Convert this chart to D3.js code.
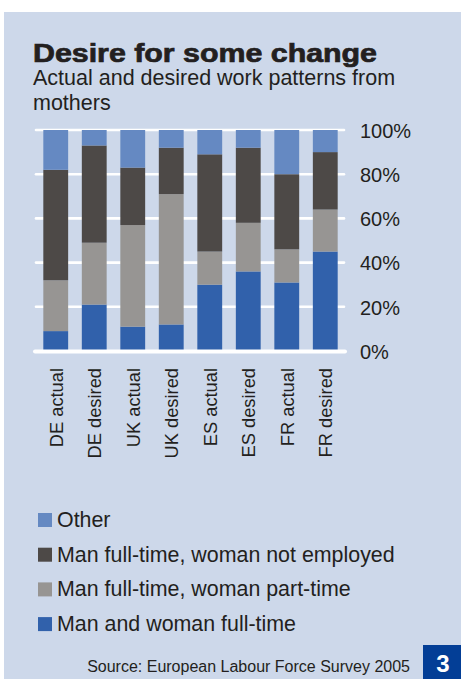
<!DOCTYPE html>
<html>
<head>
<meta charset="utf-8">
<script src="https://cdn.jsdelivr.net/npm/d3@7"></script>
<style>
  html, body { margin: 0; padding: 0; background: #ffffff; }
  svg { display: block; }
</style>
</head>
<body>
<div id="chart"></div>
<script>
// Categories (x axis) and stacked series values, in percent.
const categories = ["DE actual", "DE desired", "UK actual", "UK desired",
  "ES actual", "ES desired", "FR actual", "FR desired"];
const fullTime = [9, 21, 11, 12, 30, 36, 31, 45];
const partTime = [23, 28, 46, 59, 15, 22, 15, 19];
const notEmployed = [50, 44, 26, 21, 44, 34, 34, 26];
const other = [18, 7, 17, 8, 11, 8, 20, 10];
const seriesNames = ["Man and woman full-time", "Man full-time, woman part-time",
  "Man full-time, woman not employed", "Other"];
const yTicks = [0, 20, 40, 60, 80, 100];

const width = 461;
const height = 679;
const font = "'Liberation Sans', Arial, sans-serif";
const colors = ["#3161ab", "#979593", "#4d4947", "#6589c2"];

// Build rows for d3.stack.
const rows = categories.map((c, i) => ({
  cat: c,
  s0: fullTime[i],
  s1: partTime[i],
  s2: notEmployed[i],
  s3: other[i],
}));
const keys = ["s0", "s1", "s2", "s3"];
const stacked = d3.stack().keys(keys)(rows);

const svg = d3.select("#chart")
  .append("svg")
  .attr("width", width)
  .attr("height", height);

// Background panel.
svg.append("rect")
  .attr("x", 4)
  .attr("y", 12)
  .attr("width", width - 4)
  .attr("height", height - 12)
  .attr("fill", "#cdd8ea");

// Title and subtitle.
svg.append("text")
  .attr("x", 33)
  .attr("y", 62)
  .attr("font-family", font)
  .attr("font-weight", 900)
  .attr("font-size", 25)
  .attr("fill", "#231f20")
  .attr("stroke", "#231f20")
  .attr("stroke-width", 0.7)
  .attr("textLength", 344)
  .attr("lengthAdjust", "spacingAndGlyphs")
  .text("Desire for some change");

svg.append("text")
  .attr("x", 33)
  .attr("y", 85)
  .attr("font-family", font)
  .attr("font-size", 21.5)
  .attr("fill", "#231f20")
  .text("Actual and desired work patterns from");

svg.append("text")
  .attr("x", 33)
  .attr("y", 110)
  .attr("font-family", font)
  .attr("font-size", 21.5)
  .attr("fill", "#231f20")
  .text("mothers");

// Scales.
const x = d3.scaleBand()
  .domain(categories)
  .range([36, 345])
  .paddingInner(0.355)
  .paddingOuter(0.19);

const y = d3.scaleLinear()
  .domain([0, 100])
  .range([351, 130]);

// Horizontal gridlines (behind bars).
svg.append("g")
  .selectAll("line")
  .data(yTicks.filter((d) => d > 0))
  .join("line")
  .attr("x1", 36)
  .attr("x2", 344)
  .attr("y1", (d) => y(d))
  .attr("y2", (d) => y(d))
  .attr("stroke", "#ffffff")
  .attr("stroke-width", 2.6)
  .attr("stroke-linecap", "round");

// Stacked bars.
svg.append("g")
  .selectAll("g")
  .data(stacked)
  .join("g")
  .attr("fill", (d, i) => colors[i])
  .selectAll("rect")
  .data((d) => d)
  .join("rect")
  .attr("x", (d) => x(d.data.cat))
  .attr("y", (d) => y(d[1]))
  .attr("width", x.bandwidth())
  .attr("height", (d) => y(d[0]) - y(d[1]));

// Baseline.
svg.append("line")
  .attr("x1", 35)
  .attr("x2", 345)
  .attr("y1", y(0) + 0.5)
  .attr("y2", y(0) + 0.5)
  .attr("stroke", "#ffffff")
  .attr("stroke-width", 4)
  .attr("stroke-linecap", "round");

// Y axis labels on the right.
const yAxis = svg.append("g")
  .attr("transform", "translate(360, 0)")
  .call(d3.axisRight(y).tickValues(yTicks).tickSize(0).tickPadding(0)
    .tickFormat((d) => d + "%"));
yAxis.select(".domain").remove();
yAxis.selectAll("text")
  .attr("font-family", font)
  .attr("font-size", 20)
  .attr("fill", "#231f20")
  .attr("dy", "0.36em");

// X axis labels, rotated.
svg.append("g")
  .selectAll("text")
  .data(categories)
  .join("text")
  .attr("transform", (d) => `translate(${x(d) + x.bandwidth() / 2 + 7}, 368) rotate(-90)`)
  .attr("text-anchor", "end")
  .attr("font-family", font)
  .attr("font-size", 18.3)
  .attr("fill", "#231f20")
  .text((d) => d);

// Legend (top-most series first).
const legendOrder = [3, 2, 1, 0];
const legend = svg.append("g")
  .selectAll("g")
  .data(legendOrder)
  .join("g")
  .attr("transform", (d, i) => `translate(38, ${527 + i * 34.7})`);

legend.append("rect")
  .attr("x", 0)
  .attr("y", -14)
  .attr("width", 14)
  .attr("height", 14)
  .attr("fill", (d) => colors[d]);

legend.append("text")
  .attr("x", 19)
  .attr("y", 0)
  .attr("font-family", font)
  .attr("font-size", 21.4)
  .attr("fill", "#231f20")
  .text((d) => seriesNames[d]);

// Source note.
svg.append("text")
  .attr("x", 410)
  .attr("y", 672)
  .attr("text-anchor", "end")
  .attr("font-family", font)
  .attr("font-size", 16)
  .attr("fill", "#231f20")
  .text("Source: European Labour Force Survey 2005");

// Page number box.
svg.append("rect")
  .attr("x", 423)
  .attr("y", 645)
  .attr("width", 38)
  .attr("height", 34)
  .attr("fill", "#033e96");

svg.append("text")
  .attr("x", 443)
  .attr("y", 672)
  .attr("text-anchor", "middle")
  .attr("font-family", font)
  .attr("font-weight", "bold")
  .attr("font-size", 24)
  .attr("fill", "#ffffff")
  .text("3");
</script>
</body>
</html>
